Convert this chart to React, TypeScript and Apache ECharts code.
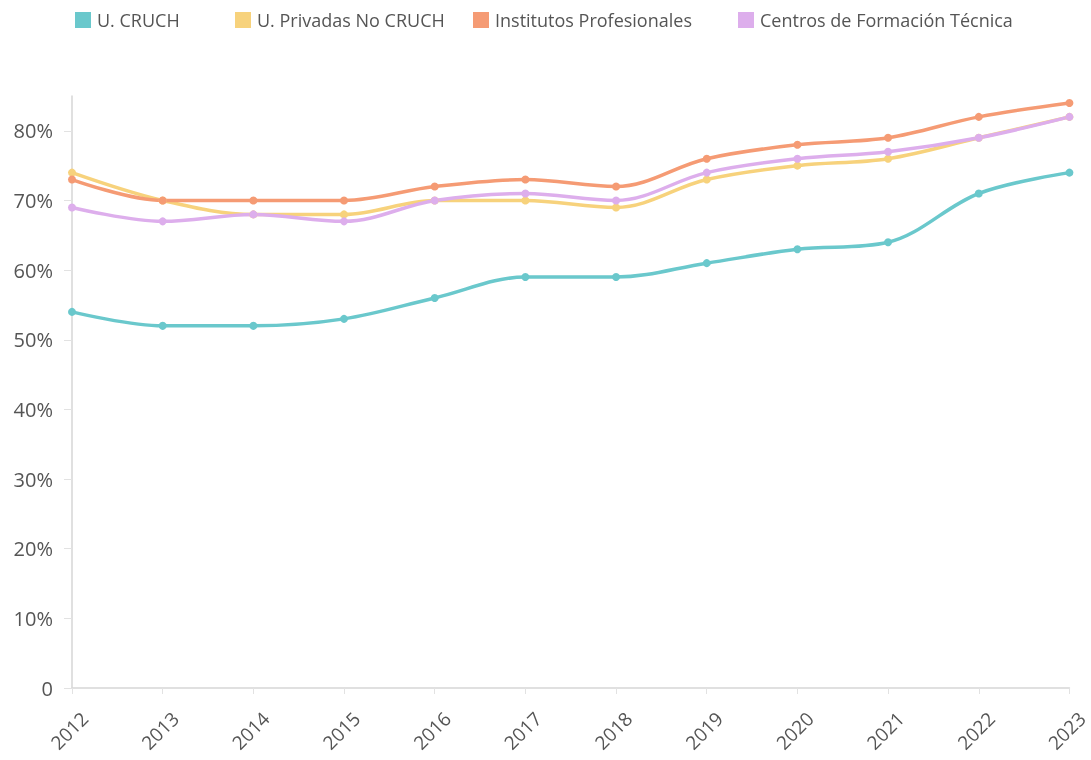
import React, { useEffect, useRef } from "react";
import * as echarts from "echarts";

const years = ["2012", "2013", "2014", "2015", "2016", "2017", "2018", "2019", "2020", "2021", "2022", "2023"];
const cruch = [54, 52, 52, 53, 56, 59, 59, 61, 63, 64, 71, 74];
const privadas = [74, 70, 68, 68, 70, 70, 69, 73, 75, 76, 79, 82];
const institutos = [73, 70, 70, 70, 72, 73, 72, 76, 78, 79, 82, 84];
const centros = [69, 67, 68, 67, 70, 71, 70, 74, 76, 77, 79, 82];

const names = ["U. CRUCH", "U. Privadas No CRUCH", "Institutos Profesionales", "Centros de Formación Técnica"];
const colors = ["#6AC8CC", "#F7D27C", "#F59B74", "#DDAEEC"];
const seriesData = [cruch, privadas, institutos, centros];
const legendLefts = [70, 230, 468, 733];

export default function App() {
  const ref = useRef<HTMLDivElement>(null);
  useEffect(() => {
    if (!ref.current) return;
    const chart = echarts.init(ref.current, undefined, { renderer: "svg" });
    const font = "'Open Sans', sans-serif";
    chart.setOption({
      animation: false,
      color: colors,
      textStyle: { fontFamily: font },
      legend: names.map((n, i) => ({
        left: legendLefts[i],
        top: 6,
        icon: "rect",
        itemWidth: 16,
        itemHeight: 16,
        itemGap: 0,
        textStyle: { fontSize: 18, color: "#555", fontFamily: font, padding: [0, 0, 0, 1] },
        data: [n],
      })),
      grid: { left: 72, right: 18, top: 96, bottom: 72, containLabel: false },
      xAxis: {
        type: "category",
        data: years,
        boundaryGap: false,
        axisLine: { lineStyle: { color: "#d6d6d6", width: 1.5 } },
        axisTick: { show: true, alignWithLabel: true, length: 6, lineStyle: { color: "#e2e2e2" } },
        axisLabel: {
          rotate: 45,
          fontSize: 19,
          color: "#555",
          margin: 40,
          padding: [0, -18, 0, 0],
          fontFamily: font,
        },
      },
      yAxis: {
        type: "value",
        min: 0,
        max: 85,
        interval: 10,
        axisLine: { show: true, lineStyle: { color: "#d6d6d6", width: 1.5 } },
        axisTick: { show: true, length: 8, lineStyle: { color: "#e2e2e2" } },
        splitLine: { show: false },
        axisLabel: {
          fontSize: 20,
          color: "#555",
          margin: 19,
          fontFamily: font,
          showMaxLabel: false,
          formatter: (v: number) => (v === 0 ? "0" : v > 80 ? "" : v + "%"),
        },
      },
      series: names.map((n, i) => ({
        name: n,
        type: "line",
        data: seriesData[i],
        smooth: 0.35,
        symbol: "circle",
        symbolSize: 8,
        lineStyle: { width: 3.5, color: colors[i] },
        itemStyle: { color: colors[i] },
      })),
    });
    return () => chart.dispose();
  }, []);
  return <div ref={ref} style={{ position: "fixed", left: 0, top: 0, width: 1091, height: 760 }} />;
}
